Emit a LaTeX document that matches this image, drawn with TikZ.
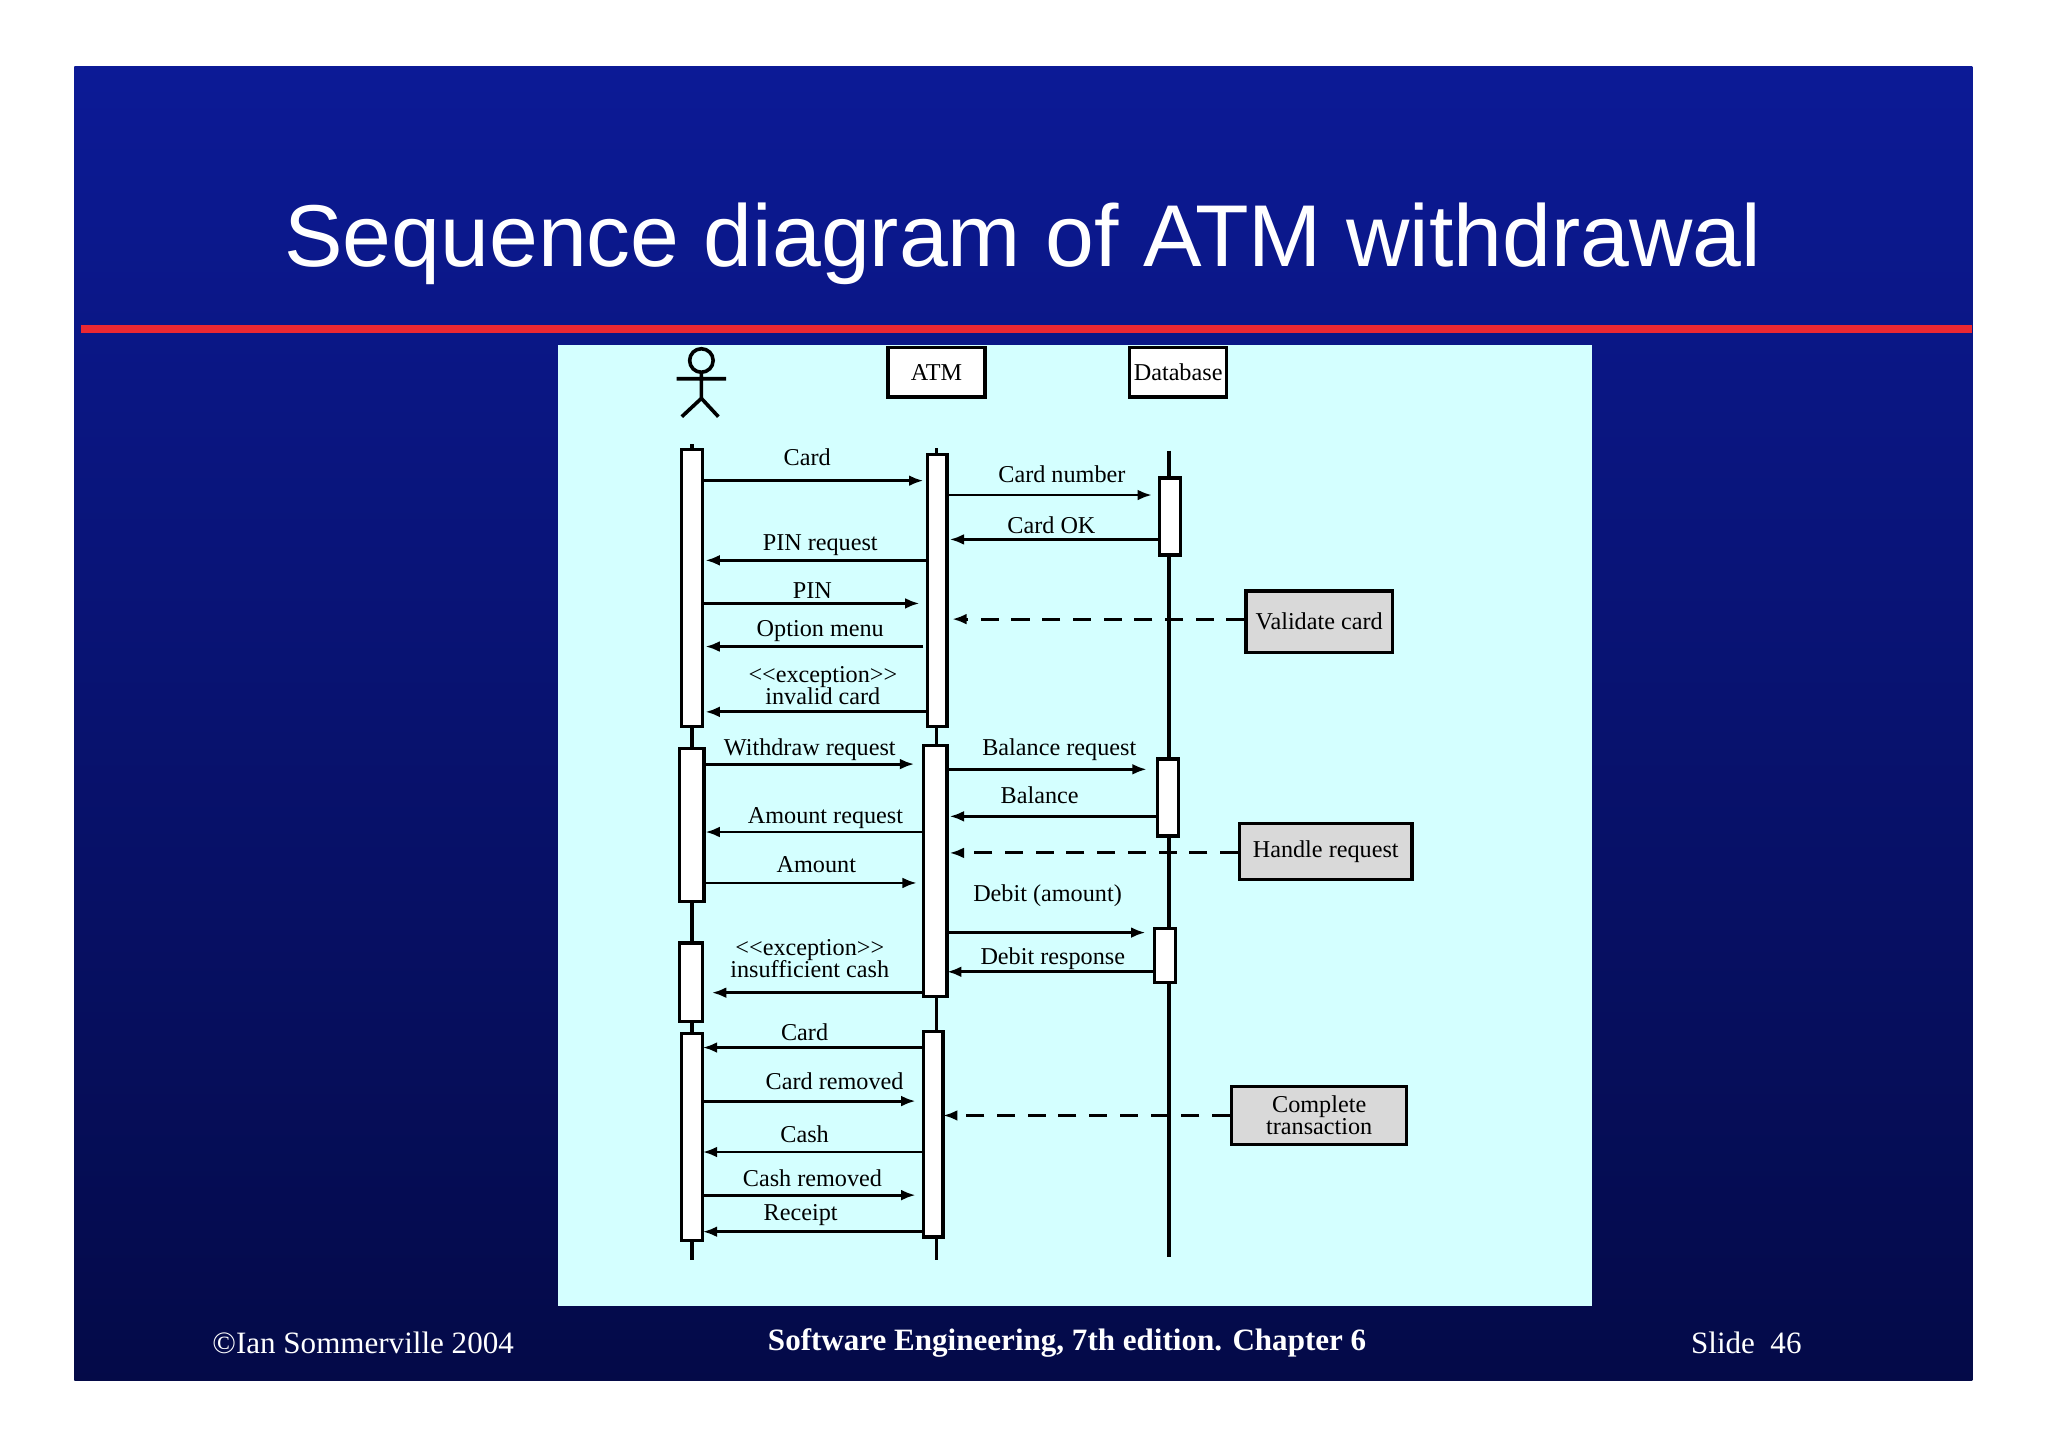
\documentclass[tikz,border=0pt]{standalone}
\usepackage{fontspec}
\setmainfont{Liberation Serif}
\newfontfamily\titlefont{Liberation Sans}
\usetikzlibrary{arrows.meta}
\definecolor{slidetop}{RGB}{12,26,150}
\definecolor{slidebot}{RGB}{4,10,72}
\definecolor{panel}{RGB}{212,255,255}
\definecolor{notegray}{RGB}{217,217,217}
\definecolor{redline}{RGB}{235,40,50}
\begin{document}
\begin{tikzpicture}[x=0.3616pt,y=-0.3616pt,
  life/.style={line width=1pt},
  act/.style={draw,fill=white,line width=0.9pt},
  msg/.style={line width=0.8pt,-{Latex[length=4pt,width=3pt]}},
  dmsg/.style={line width=0.8pt,dashed,dash pattern=on 5pt off 3.5pt,-{Latex[length=4pt,width=3pt]}},
  lbl/.style={font=\fontsize{6.7}{7}\selectfont,inner sep=0pt,align=center},
  obj/.style={draw,fill=white,line width=0.9pt,minimum width=26.8pt,minimum height=13.7pt,font=\fontsize{6.7}{7}\selectfont,inner sep=0pt},
  note/.style={draw,fill=notegray,line width=0.9pt,font=\fontsize{6.7}{7}\selectfont,align=center,inner sep=0pt},
  foot/.style={text=white,font=\fontsize{8.6}{10}\selectfont}]
\useasboundingbox (0,0) rectangle (1568,1108);
\fill[white] (0,0) rectangle (1568,1108);
\shade[top color=slidetop,bottom color=slidebot] (57,51) rectangle (1510,1057);
\node[text=white,font=\titlefont\fontsize{24.3}{28}\selectfont] (title) at (783,187) {Sequence diagram of ATM withdrawal};
\fill[redline] (62,249) rectangle (1510,255);
\fill[panel] (427,264) rectangle (1219,1000);
% actor
\draw[line width=1pt] (537,276) circle (9);
\draw[line width=1pt] (537,285) -- (537,305) (518,290) -- (556,290) (537,305) -- (522,319) (537,305) -- (550,319);
\node[obj] (atm) at (717,285) {ATM};
\node[obj] (db) at (902,285) {Database};
% lifelines
\draw[life] (530,340) -- (530,965);
\draw[life] (717,343) -- (717,965);
\draw[life] (895,345) -- (895,962);
% activations
\draw[act] (522,344) rectangle (538,556);
\draw[act] (520,573) rectangle (539,690);
\draw[act] (520,722) rectangle (538,782);
\draw[act] (522,791) rectangle (538,950);
\draw[act] (710,348) rectangle (725,556);
\draw[act] (707,571) rectangle (725,763);
\draw[act] (707,790) rectangle (722,947);
\draw[act] (888,366) rectangle (904,425);
\draw[act] (886,581) rectangle (902,640);
\draw[act] (884,711) rectangle (900,752);
% messages
\newcommand{\mymsg}[7]{\coordinate (#1a) at (#2,#4);\coordinate (#1b) at (#3,#4);
  \draw[msg] (#1a) -- (#1b);\node[lbl] (#1l) at (#5,#6) {#7};}
\mymsg{m1}{538}{707}{368}{618}{350}{Card}
\mymsg{m2}{725}{882}{379}{813}{363}{Card number}
\mymsg{m3}{888}{727}{413}{805}{402}{Card OK}
\mymsg{m4}{710}{540}{429}{628}{417}{PIN request}
\mymsg{m5}{538}{704}{462}{622}{452}{PIN}
\mymsg{m6}{707}{540}{495}{628}{483}{Option menu}
\mymsg{m7}{710}{540}{545}{630}{525}{<{}<exception>{}>\\[-1pt]invalid card}
\mymsg{m8}{539}{700}{585}{620}{574}{Withdraw request}
\mymsg{m9}{725}{878}{589}{811}{574}{Balance request}
\mymsg{m10}{886}{727}{625}{796}{609}{Balance}
\mymsg{m11}{707}{540}{637}{632}{626}{Amount request}
\mymsg{m12}{539}{702}{676}{625}{662}{Amount}
\mymsg{m13}{725}{877}{714}{802}{686}{Debit (amount)}
\mymsg{m14}{884}{725}{744}{806}{734}{Debit response}
\mymsg{m15}{707}{545}{760}{620}{734}{<{}<exception>{}>\\[-1pt]insufficient cash}
\mymsg{m16}{707}{538}{802}{616}{790}{Card}
\mymsg{m17}{538}{701}{843}{639}{828}{Card removed}
\mymsg{m18}{707}{538}{882}{616}{868}{Cash}
\mymsg{m19}{538}{701}{915}{622}{902}{Cash removed}
\mymsg{m20}{707}{538}{943}{613}{930}{Receipt}
% notes
\node[note,minimum width=40.5pt,minimum height=17pt] (n1) at (1010,476) {Validate card};
\node[note,minimum width=47.7pt,minimum height=15.5pt] (n2) at (1015,652) {Handle request};
\node[note,minimum width=48.5pt,minimum height=15.9pt] (n3) at (1010,854) {Complete\\[-1pt]transaction};
\coordinate (d1) at (729,474);\coordinate (d2) at (727,653);\coordinate (d3) at (722,854);
\draw[dmsg] (n1.west|-d1) -- (d1);
\draw[dmsg] (n2.west|-d2) -- (d2);
\draw[dmsg] (n3.west|-d3) -- (d3);
% footer
\node[foot] (f1) at (278,1028) {\textcopyright Ian Sommerville 2004};
\node[foot,font=\bfseries\fontsize{8.6}{10}\selectfont] (f2) at (817,1028) {Software Engineering, 7th edition. Chapter 6};
\node[foot] (f3) at (1337,1028) {Slide\ \ 46};
\end{tikzpicture}
\end{document}
